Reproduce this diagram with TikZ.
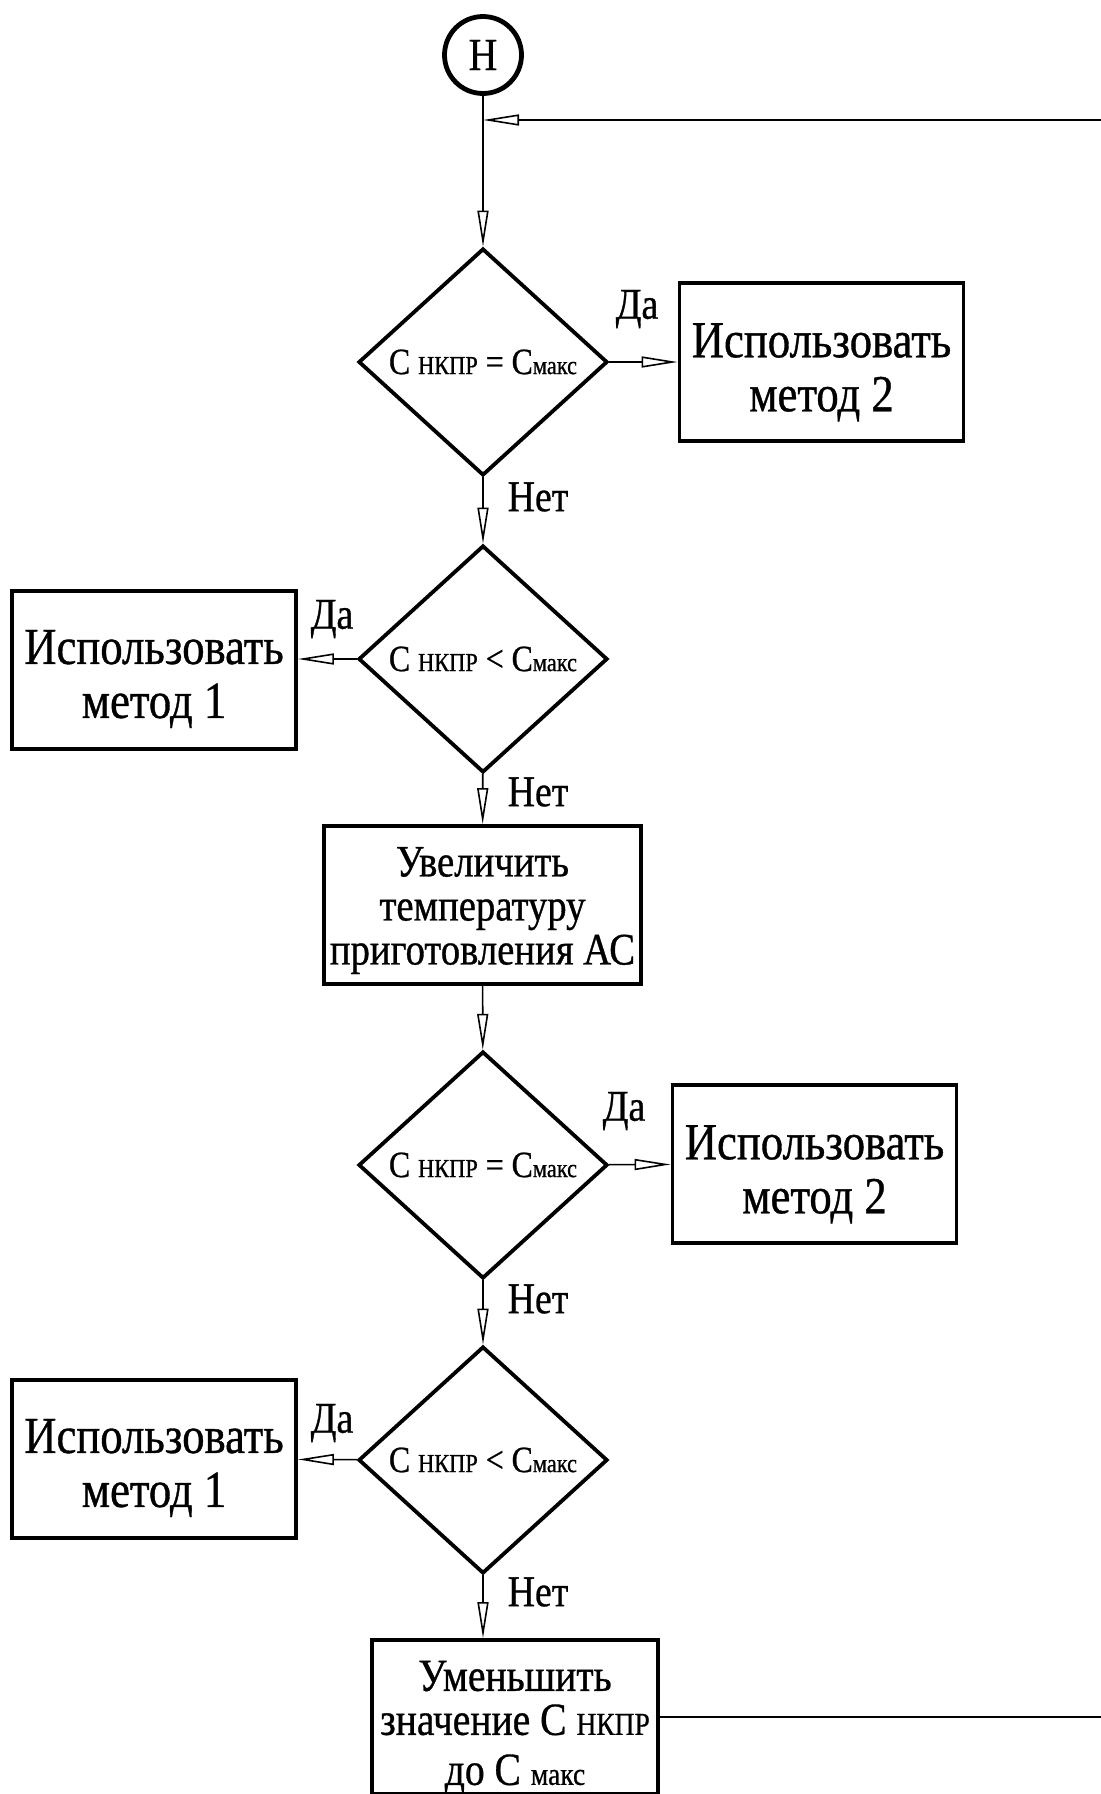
\documentclass[tikz,border=0pt]{standalone}
\usepackage{fontspec}
\setmainfont{Liberation Serif}[FakeStretch=0.86,FakeBold=0.7]
\usetikzlibrary{arrows.meta,shapes.geometric}

\newcommand\minor[2]{{\fontsize{#1}{#1}\selectfont #2}}
\newcommand\up[1]{\rule{0pt}{#1em}}

\tikzset{
  blk/.style={draw, line width=1.9pt, align=center, inner sep=0pt},
  bigblk/.style={blk, minimum width=142pt, minimum height=79pt,
    font=\fontsize{26}{27}\selectfont},
  cond/.style={diamond, draw, line width=1.9pt, inner sep=0pt, aspect=1.1,
    minimum width=124.5pt, minimum height=113.5pt,
    font=\fontsize{18.5}{20}\selectfont},
  lbl/.style={inner sep=0pt, font=\fontsize{22}{24}\selectfont},
  flow/.style={line width=0.8pt, -{Triangle[open,length=18pt,width=5.5pt]}},
}

\begin{document}
\begin{tikzpicture}[x=0.5pt,y=-0.5pt]
\clip (0,0) rectangle (1101,1794);

% start
\node[circle, draw, line width=2.4pt, minimum size=38.5pt, inner sep=0pt,
  font=\fontsize{23}{24}\selectfont] (start) at (483,55) {Н};
\coordinate (join) at (483,120);

% conditions
\node[cond] (d1) at (483,362) {С \minor{13}{НКПР} = С\minor{13}{макс}};
\node[cond] (d2) at (483,659) {С \minor{13}{НКПР} < С\minor{13}{макс}};
\node[cond] (d3) at (483,1165) {С \minor{13}{НКПР} = С\minor{13}{макс}};
\node[cond] (d4) at (483,1460) {С \minor{13}{НКПР} < С\minor{13}{макс}};

% actions
\node[bigblk] (m2a) at (821.5,362) {\up{1.05}Использовать\\метод 2};
\node[bigblk] (m1a) at (154,670) {\up{1.0}Использовать\\метод 1};
\node[blk, minimum width=158.5pt, minimum height=79pt,
  font=\fontsize{22.5}{22}\selectfont] (heat) at (482.5,905)
  {\up{0.9}Увеличить\\температуру\\приготовления АС};
\node[bigblk] (m2b) at (814.5,1164) {\up{1.05}Использовать\\метод 2};
\node[bigblk] (m1b) at (154,1459) {\up{1.0}Использовать\\метод 1};
\node[blk, minimum width=143pt, minimum height=77pt,
  font=\fontsize{23}{22}\selectfont] (cut) at (515,1717)
  {\up{1.1}Уменьшить\\значение С \minor{16}{НКПР}\\[3pt]до С \minor{16}{макс}};

% connectors
\draw[line width=0.8pt] (start) -- (join);
\draw[flow] (join) -- (d1);
\draw[flow] (d1) -- (m2a);
\draw[flow] (d1) -- (d2);
\draw[flow] (d2.west) -- (d2.west -| m1a.east);
\draw[flow] (d2) -- (heat);
\draw[flow] (heat) -- (d3);
\draw[flow] (d3) -- (m2b);
\draw[flow] (d3) -- (d4);
\draw[flow] (d4) -- (m1b);
\draw[flow] (d4.south) -- (d4.south |- cut.north);
\draw[flow] (cut.east) -- ++(460,0) |- (join);

% labels
\node[lbl] at (637,309) {Да};
\node[lbl] at (538,497) {Нет};
\node[lbl] at (332,619) {Да};
\node[lbl] at (538,792) {Нет};
\node[lbl] at (624,1111) {Да};
\node[lbl] at (538,1299) {Нет};
\node[lbl] at (332,1423) {Да};
\node[lbl] at (538,1592) {Нет};
\end{tikzpicture}
\end{document}
